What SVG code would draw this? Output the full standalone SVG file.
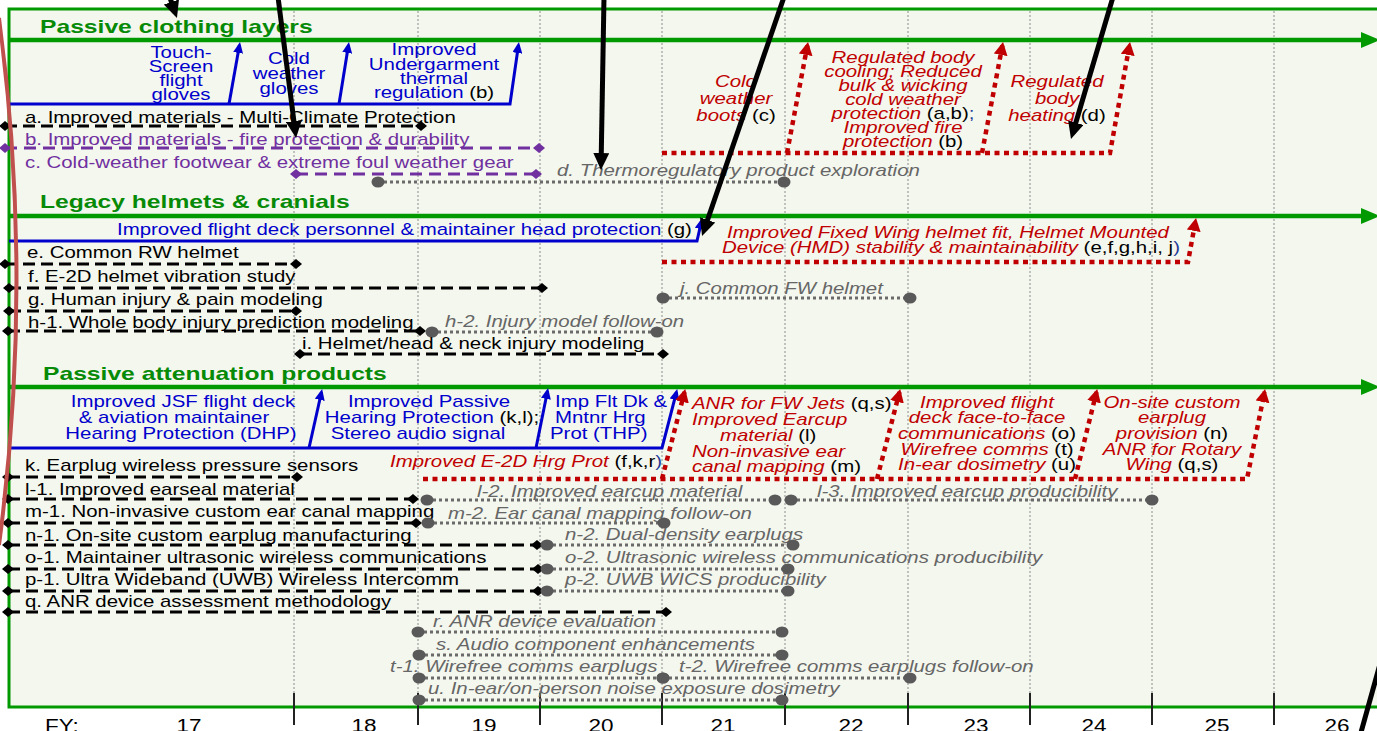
<svg xmlns="http://www.w3.org/2000/svg" width="1377" height="731" viewBox="0 0 1377 731">
<defs>
<style>
text{font-family:"Liberation Sans",Arial,Helvetica,sans-serif;font-size:16.4px;fill:#000}
.ti{font-size:18px;font-weight:bold;fill:#078a07}
.b{fill:#0000cc}
.r{fill:#c00000;font-style:italic}
.g{fill:#666;font-style:italic}
.p{fill:#7030a0}
.k{fill:#000;font-style:normal}
.nb{fill:#1f3d99;font-style:normal}
.m{text-anchor:middle}
.fy{font-size:18px;text-anchor:middle}
.grid{stroke:#8c8c8c;stroke-width:1;stroke-dasharray:2 2}
.tick{stroke:#222;stroke-width:2}
.lane{stroke:#009a00;stroke-width:4.5}
.dk{stroke:#000;stroke-width:3;stroke-dasharray:12 6;marker-start:url(#mdk);marker-end:url(#mdk)}
.dp{stroke:#7030a0;stroke-width:3;stroke-dasharray:12 7;marker-start:url(#mdp);marker-end:url(#mdp)}
.dg{stroke:#6a6a6a;stroke-width:3;stroke-dasharray:3 3;marker-start:url(#mcg);marker-end:url(#mcg)}
.blu{fill:none;stroke:#0000cc;stroke-width:3;marker-end:url(#mab)}
.red{fill:none;stroke:#c00000;stroke-width:4.5;stroke-dasharray:5 4.5;marker-end:url(#mar)}
.blk{fill:none;stroke:#000;stroke-width:5;marker-end:url(#mak)}
</style>
<marker id="mdk" markerUnits="userSpaceOnUse" markerWidth="12" markerHeight="10" refX="6" refY="5" viewBox="0 0 12 10" orient="0"><path d="M0,5 L6,0 L12,5 L6,10 z" fill="#000"/></marker>
<marker id="mdp" markerUnits="userSpaceOnUse" markerWidth="12" markerHeight="10" refX="6" refY="5" viewBox="0 0 12 10" orient="0"><path d="M0,5 L6,0 L12,5 L6,10 z" fill="#7030a0"/></marker>
<marker id="mcg" markerUnits="userSpaceOnUse" markerWidth="14" markerHeight="12" refX="7" refY="6" viewBox="0 0 14 12" orient="0"><ellipse cx="7" cy="6" rx="6.5" ry="5.5" fill="#595959"/></marker>
<marker id="mab" markerUnits="userSpaceOnUse" markerWidth="11" markerHeight="10" refX="8" refY="5" viewBox="0 0 11 10" orient="auto"><path d="M0,0 L11,5 L0,10 z" fill="#0000cc"/></marker>
<marker id="mar" markerUnits="userSpaceOnUse" markerWidth="13" markerHeight="14" refX="10" refY="7" viewBox="0 0 13 14" orient="auto"><path d="M0,0 L13,7 L0,14 z" fill="#c00000"/></marker>
<marker id="mak" markerUnits="userSpaceOnUse" markerWidth="17" markerHeight="16" refX="11" refY="8" viewBox="0 0 17 16" orient="auto"><path d="M0,0 L17,8 L0,16 z" fill="#000"/></marker>
</defs>

<rect x="0" y="0" width="1377" height="731" fill="#fff"/>
<rect x="9" y="9" width="1374" height="698" fill="#f4f7ee" stroke="#009a00" stroke-width="3"/>

<g id="grid">
<line class="grid" x1="294" y1="11" x2="294" y2="706"/>
<line class="grid" x1="418" y1="11" x2="418" y2="706"/>
<line class="grid" x1="540" y1="11" x2="540" y2="706"/>
<line class="grid" x1="662" y1="11" x2="662" y2="706"/>
<line class="grid" x1="785" y1="11" x2="785" y2="706"/>
<line class="grid" x1="908" y1="11" x2="908" y2="706"/>
<line class="grid" x1="1030" y1="11" x2="1030" y2="706"/>
<line class="grid" x1="1152" y1="11" x2="1152" y2="706"/>
<line class="grid" x1="1274" y1="11" x2="1274" y2="706"/>
</g>

<g id="axis">
<line class="tick" x1="294" y1="693" x2="294" y2="725"/>
<line class="tick" x1="418" y1="693" x2="418" y2="725"/>
<line class="tick" x1="540" y1="693" x2="540" y2="725"/>
<line class="tick" x1="662" y1="693" x2="662" y2="725"/>
<line class="tick" x1="785" y1="693" x2="785" y2="725"/>
<line class="tick" x1="908" y1="693" x2="908" y2="725"/>
<line class="tick" x1="1030" y1="693" x2="1030" y2="725"/>
<line class="tick" x1="1152" y1="693" x2="1152" y2="725"/>
<line class="tick" x1="1274" y1="693" x2="1274" y2="725"/>
<text class="fy" transform="translate(62 732) scale(1.25 1)">FY:</text>
<text class="fy" transform="translate(189 732) scale(1.25 1)">17</text>
<text class="fy" transform="translate(364 732) scale(1.25 1)">18</text>
<text class="fy" transform="translate(484 732) scale(1.25 1)">19</text>
<text class="fy" transform="translate(601 732) scale(1.25 1)">20</text>
<text class="fy" transform="translate(723 732) scale(1.25 1)">21</text>
<text class="fy" transform="translate(851 732) scale(1.25 1)">22</text>
<text class="fy" transform="translate(976 732) scale(1.25 1)">23</text>
<text class="fy" transform="translate(1094 732) scale(1.25 1)">24</text>
<text class="fy" transform="translate(1217 732) scale(1.25 1)">25</text>
<text class="fy" transform="translate(1337 732) scale(1.25 1)">26</text>
</g>

<g id="lanes">
<line class="lane" x1="9" y1="40" x2="1364" y2="40"/>
<polygon points="1361,32 1380,40 1361,48" fill="#009a00"/>
<line class="lane" x1="9" y1="216" x2="1364" y2="216"/>
<polygon points="1361,208 1380,216 1361,224" fill="#009a00"/>
<line class="lane" x1="9" y1="387" x2="1364" y2="387"/>
<polygon points="1361,379 1380,387 1361,395" fill="#009a00"/>
<text class="ti" transform="translate(40 33) scale(1.37 1)">Passive clothing layers</text>
<text class="ti" transform="translate(40 208) scale(1.37 1)">Legacy helmets &amp; cranials</text>
<text class="ti" transform="translate(43 380) scale(1.37 1)">Passive attenuation products</text>
</g>

<g id="connectors">
<path class="blu" d="M9,104 H510 L518.5,45"/>
<path class="blu" d="M229,104 L239.5,45"/>
<path class="blu" d="M339,104 L348.5,45"/>
<path class="red" d="M662,153 H1110 L1129.5,45"/>
<path class="red" d="M787,153 L807.5,45"/>
<path class="red" d="M982,153 L1002.5,45"/>
<path class="blu" d="M9,241 H697 L701.5,221"/>
<path class="red" d="M662,262 H1188 L1195.5,221"/>
<path class="blu" d="M9,448 H662 L676.5,392"/>
<path class="blu" d="M309,448 L321.5,392"/>
<path class="blu" d="M536,448 L547.5,391"/>
<path class="red" d="M423,479 H1247 L1264.5,392"/>
<path class="red" d="M662,479 L684.5,392"/>
<path class="red" d="M877,479 L899.5,392"/>
<path class="red" d="M1075,479 L1096.5,392"/>
</g>

<g id="clothing-outcomes">
<text class="b m" transform="translate(181 58) scale(1.245 1)"><tspan x="0">Touch-</tspan><tspan x="0" dy="14">Screen</tspan><tspan x="0" dy="14">flight</tspan><tspan x="0" dy="14">gloves</tspan></text>
<text class="b m" transform="translate(289 64) scale(1.245 1)"><tspan x="0">Cold</tspan><tspan x="0" dy="15">weather</tspan><tspan x="0" dy="15">gloves</tspan></text>
<text class="b m" transform="translate(434 55) scale(1.245 1)"><tspan x="0">Improved</tspan><tspan x="0" dy="14.5">Undergarment</tspan><tspan x="0" dy="14.5">thermal</tspan><tspan x="0" dy="14.5">regulation <tspan class="k">(b)</tspan></tspan></text>
<text class="r m" transform="translate(736 87) scale(1.245 1)"><tspan x="0">Cold</tspan><tspan x="0" dy="17">weather</tspan><tspan x="0" dy="17">boots <tspan class="k">(c)</tspan></tspan></text>
<text class="r m" transform="translate(903 63) scale(1.245 1)"><tspan x="0">Regulated body</tspan><tspan x="0" dy="14">cooling; Reduced</tspan><tspan x="0" dy="14">bulk &amp; wicking</tspan><tspan x="0" dy="14">cold weather</tspan><tspan x="0" dy="14">protection <tspan class="k">(a,b)</tspan><tspan class="nb">;</tspan></tspan><tspan x="0" dy="14">Improved fire</tspan><tspan x="0" dy="14">protection <tspan class="k">(b)</tspan></tspan></text>
<text class="r m" transform="translate(1057 87) scale(1.245 1)"><tspan x="0">Regulated</tspan><tspan x="0" dy="17">body</tspan><tspan x="0" dy="17">heating <tspan class="k">(d)</tspan></tspan></text>
</g>

<g id="item-a">
<text transform="translate(25 122.5) scale(1.245 1)">a. Improved materials - Multi-Climate Protection</text>
<line class="dk" x1="5" y1="126" x2="421" y2="126"/>
</g>
<g id="item-b">
<text class="p" transform="translate(25 144.5) scale(1.245 1)">b. Improved materials - fire protection &amp; durability</text>
<line class="dp" x1="5" y1="148" x2="539" y2="148"/>
</g>
<g id="item-c">
<text class="p" transform="translate(25 167.5) scale(1.245 1)">c. Cold-weather footwear &amp; extreme foul weather gear</text>
<line class="dp" x1="296" y1="174" x2="536" y2="174"/>
</g>
<g id="item-d">
<text class="g" transform="translate(557 176) scale(1.245 1)">d. Thermoregulatory product exploration</text>
<line class="dg" x1="378" y1="182" x2="784" y2="182"/>
</g>

<g id="helmet-outcomes">
<text class="b" transform="translate(117 235) scale(1.245 1)">Improved flight deck personnel &amp; maintainer head protection <tspan class="k">(g)</tspan></text>
<text class="r" transform="translate(727 237.5) scale(1.245 1)">Improved Fixed Wing helmet fit, Helmet Mounted</text>
<text class="r" transform="translate(722 252.5) scale(1.245 1)">Device (HMD) stability &amp; maintainability <tspan class="k">(e,f,g,h,i, j</tspan><tspan class="nb">)</tspan></text>
</g>

<g id="item-e">
<text transform="translate(27 258) scale(1.245 1)">e. Common RW helmet</text>
<line class="dk" x1="5" y1="264" x2="296" y2="264"/>
</g>
<g id="item-f">
<text transform="translate(28 281.5) scale(1.245 1)">f. E-2D helmet vibration study</text>
<line class="dk" x1="9" y1="288" x2="542" y2="288"/>
</g>
<g id="item-g">
<text transform="translate(28 304.5) scale(1.245 1)">g. Human injury &amp; pain modeling</text>
<line class="dk" x1="9" y1="311" x2="296" y2="311"/>
</g>
<g id="item-h1">
<text transform="translate(28 327.5) scale(1.245 1)">h-1. Whole body injury prediction modeling</text>
<line class="dk" x1="8" y1="331" x2="420" y2="331"/>
</g>
<g id="item-h2">
<text class="g" transform="translate(445 326.5) scale(1.245 1)">h-2. Injury model follow-on</text>
<line class="dg" x1="432" y1="332" x2="657" y2="332"/>
</g>
<g id="item-i">
<text transform="translate(302 348.5) scale(1.245 1)">i. Helmet/head &amp; neck injury modeling</text>
<line class="dk" x1="300" y1="354" x2="663" y2="354"/>
</g>
<g id="item-j">
<text class="g" transform="translate(680 293.5) scale(1.245 1)">j. Common FW helmet</text>
<line class="dg" x1="663" y1="298" x2="910" y2="298"/>
</g>

<g id="attenuation-outcomes">
<text class="b m" transform="translate(183 407) scale(1.245 1)">Improved JSF flight deck</text>
<text class="b m" transform="translate(174 423) scale(1.245 1)">&amp; aviation maintainer</text>
<text class="b m" transform="translate(181 438.5) scale(1.245 1)">Hearing Protection (DHP)</text>
<text class="b m" transform="translate(429 407) scale(1.245 1)">Improved Passive</text>
<text class="b m" transform="translate(432 423) scale(1.245 1)">Hearing Protection <tspan class="k">(k,l);</tspan></text>
<text class="b m" transform="translate(418 438.5) scale(1.245 1)">Stereo audio signal</text>
<text class="b" transform="translate(555 407) scale(1.245 1)">Imp Flt Dk &amp;</text>
<text class="b" transform="translate(555 423) scale(1.245 1)">Mntnr Hrg</text>
<text class="b" transform="translate(550 438.5) scale(1.245 1)">Prot (THP)</text>
<text class="r" transform="translate(390 467) scale(1.245 1)">Improved E-2D Hrg Prot <tspan class="k">(f,k,r</tspan><tspan class="nb">)</tspan></text>
<text class="r" transform="translate(692 408.5) scale(1.245 1)">ANR for FW Jets <tspan class="k">(q,s)</tspan></text>
<text class="r" transform="translate(692 424.5) scale(1.245 1)">Improved Earcup</text>
<text class="r" transform="translate(720 440.5) scale(1.245 1)">material <tspan class="k">(l)</tspan></text>
<text class="r" transform="translate(692 456.5) scale(1.245 1)">Non-invasive ear</text>
<text class="r" transform="translate(692 471.5) scale(1.245 1)">canal mapping <tspan class="k">(m)</tspan></text>
<text class="r m" transform="translate(987 407.5) scale(1.245 1)"><tspan x="0">Improved flight</tspan><tspan x="0" dy="15.75">deck face-to-face</tspan><tspan x="0" dy="15.75">communications <tspan class="k">(o)</tspan></tspan><tspan x="0" dy="15.75">Wirefree comms <tspan class="k">(t)</tspan></tspan><tspan x="0" dy="15.75">In-ear dosimetry <tspan class="k">(u)</tspan></tspan></text>
<text class="r m" transform="translate(1172 407.5) scale(1.245 1)"><tspan x="0">On-site custom</tspan><tspan x="0" dy="15.75">earplug</tspan><tspan x="0" dy="15.75">provision <tspan class="k">(n)</tspan></tspan><tspan x="0" dy="15.75">ANR for Rotary</tspan><tspan x="0" dy="15.75">Wing <tspan class="k">(q,s)</tspan></tspan></text>
</g>

<g id="item-k">
<text transform="translate(25 470.5) scale(1.245 1)">k. Earplug wireless pressure sensors</text>
<line class="dk" x1="8" y1="477" x2="297" y2="477"/>
</g>
<g id="item-l1">
<text transform="translate(25 494.5) scale(1.245 1)">l-1. Improved earseal material</text>
<line class="dk" x1="8" y1="499" x2="413" y2="499"/>
</g>
<g id="item-l2">
<text class="g" transform="translate(477 496.5) scale(1.245 1)">l-2. Improved earcup material</text>
<line class="dg" x1="427" y1="500" x2="775" y2="500"/>
</g>
<g id="item-l3">
<text class="g" transform="translate(817 496.5) scale(1.245 1)">l-3. Improved earcup producibility</text>
<line class="dg" x1="791" y1="500" x2="1152" y2="500"/>
</g>
<g id="item-m1">
<text transform="translate(25 516.5) scale(1.245 1)">m-1. Non-invasive custom ear canal mapping</text>
<line class="dk" x1="8" y1="523" x2="416" y2="523"/>
</g>
<g id="item-m2">
<text class="g" transform="translate(448 518.5) scale(1.245 1)">m-2. Ear canal mapping follow-on</text>
<line class="dg" x1="428" y1="523" x2="664" y2="523"/>
</g>
<g id="item-n1">
<text transform="translate(25 540.5) scale(1.245 1)">n-1. On-site custom earplug manufacturing</text>
<line class="dk" x1="8" y1="545" x2="537" y2="545"/>
</g>
<g id="item-n2">
<text class="g" transform="translate(565 539.5) scale(1.245 1)">n-2. Dual-density earplugs</text>
<line class="dg" x1="547" y1="545" x2="793" y2="545"/>
</g>
<g id="item-o1">
<text transform="translate(25 562.5) scale(1.245 1)">o-1. Maintainer ultrasonic wireless communications</text>
<line class="dk" x1="8" y1="569" x2="538" y2="569"/>
</g>
<g id="item-o2">
<text class="g" transform="translate(565 562.5) scale(1.245 1)">o-2. Ultrasonic wireless communications producibility</text>
<line class="dg" x1="547" y1="569" x2="788" y2="569"/>
</g>
<g id="item-p1">
<text transform="translate(25 584.5) scale(1.245 1)">p-1. Ultra Wideband (UWB) Wireless Intercomm</text>
<line class="dk" x1="8" y1="591" x2="538" y2="591"/>
</g>
<g id="item-p2">
<text class="g" transform="translate(565 584.5) scale(1.245 1)">p-2. UWB WICS producibility</text>
<line class="dg" x1="547" y1="591" x2="788" y2="591"/>
</g>
<g id="item-q">
<text transform="translate(25 606.5) scale(1.245 1)">q. ANR device assessment methodology</text>
<line class="dk" x1="8" y1="612" x2="666" y2="612"/>
</g>
<g id="item-r">
<text class="g" transform="translate(433 626.5) scale(1.245 1)">r. ANR device evaluation</text>
<line class="dg" x1="418" y1="632" x2="782" y2="632"/>
</g>
<g id="item-s">
<text class="g" transform="translate(436 649.5) scale(1.245 1)">s. Audio component enhancements</text>
<line class="dg" x1="419" y1="655" x2="782" y2="655"/>
</g>
<g id="item-t1">
<text class="g" transform="translate(390 671.5) scale(1.245 1)">t-1. Wirefree comms earplugs</text>
<line class="dg" x1="419" y1="678" x2="663" y2="678"/>
</g>
<g id="item-t2">
<text class="g" transform="translate(679 671.5) scale(1.245 1)">t-2. Wirefree comms earplugs follow-on</text>
<line class="dg" x1="663" y1="678" x2="910" y2="678"/>
</g>
<g id="item-u">
<text class="g" transform="translate(428 693.5) scale(1.245 1)">u. In-ear/on-person noise exposure dosimetry</text>
<line class="dg" x1="419" y1="700" x2="782" y2="700"/>
</g>

<g id="annotations">
<path d="M-1,18 Q34,280 -1,545" fill="none" stroke="#c0504d" stroke-width="4"/>
<line class="blk" x1="169" y1="-5" x2="175" y2="12.4"/>
<line class="blk" x1="278" y1="-3" x2="295.3" y2="132"/>
<line class="blk" x1="604" y1="-3" x2="601.1" y2="164"/>
<line class="blk" x1="784" y1="-3" x2="704" y2="230.3"/>
<line class="blk" x1="1113" y1="-3" x2="1072.7" y2="133.3"/>
<line x1="1380" y1="664" x2="1360" y2="736" stroke="#000" stroke-width="5"/>
</g>
</svg>
